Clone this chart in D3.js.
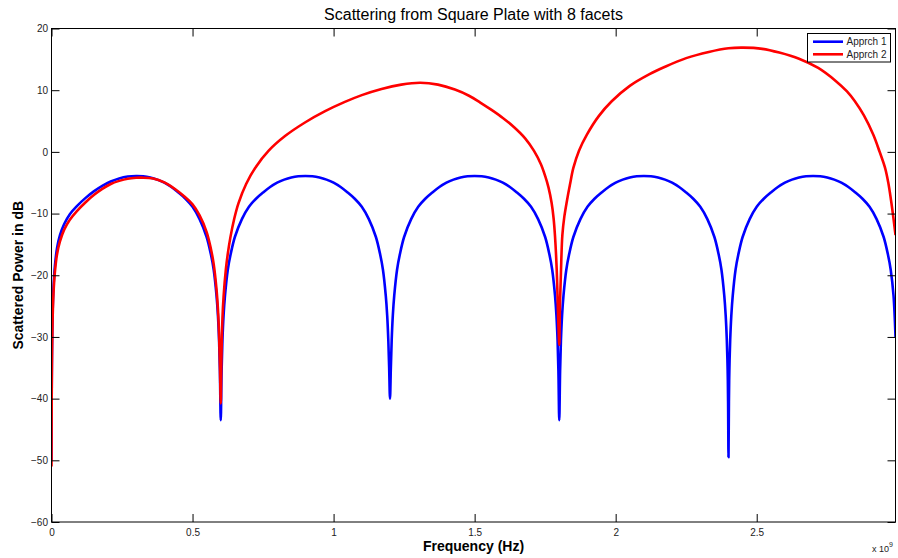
<!DOCTYPE html>
<html>
<head>
<meta charset="utf-8">
<script src="https://cdn.jsdelivr.net/npm/d3@7"></script>
<style>
body{margin:0;background:#fff}
text{font-family:"Liberation Sans",Arial,Helvetica,sans-serif}
</style>
</head>
<body>
<div id="chart"></div>
<script>
var title = 'Scattering from Square Plate with 8 facets'
var xLabel = 'Frequency (Hz)'
var yLabel = 'Scattered Power in dB'
var seriesNames = ['Apprch 1','Apprch 2']
var seriesColors = ['#0000ff','#ff0000']
var xTicks = [0,0.5,1,1.5,2,2.5]
var yTicks = [-60,-50,-40,-30,-20,-10,0,10,20]
var xMax = 2.992

// frequency (x 10^9 Hz), power (dB)
var blue1 = [[0,-50],[0.0005,-42],[0.001,-37],[0.002,-31.5],[0.004,-26],[0.007,-22],[0.012,-18.5],[0.02,-15.5],[0.03,-13.5],[0.045,-11.7],[0.065,-10.1],[0.09,-8.8],[0.12,-7.5],[0.15,-6.4],[0.18,-5.5],[0.21,-4.8],[0.24,-4.3],[0.27,-4.0],[0.3,-3.9],[0.325,-3.95],[0.35,-4.15],[0.375,-4.5],[0.4,-5.0],[0.425,-5.7],[0.45,-6.6],[0.475,-7.6],[0.5,-8.9],[0.525,-10.9],[0.55,-13.8],[0.565,-16.6],[0.575,-19.1],[0.585,-23.3],[0.59,-26.5],[0.594,-30.5],[0.597,-35.5],[0.6,-43.5]]
var blue2 = [[0.603,-35.5],[0.606,-30.5],[0.61,-26.5],[0.615,-23.3],[0.625,-19.1],[0.635,-16.6],[0.65,-13.8],[0.675,-10.9],[0.7,-8.9],[0.725,-7.6],[0.75,-6.6],[0.775,-5.7],[0.8,-5.0],[0.825,-4.5],[0.85,-4.15],[0.875,-3.95],[0.9,-3.9],[0.925,-3.95],[0.95,-4.15],[0.975,-4.5],[1.0,-5.0],[1.025,-5.7],[1.05,-6.6],[1.075,-7.6],[1.1,-8.9],[1.125,-10.9],[1.15,-13.8],[1.165,-16.6],[1.175,-19.1],[1.185,-23.3],[1.19,-26.5],[1.194,-30.5],[1.197,-35],[1.2,-40]]
var blue3 = [[1.203,-35],[1.206,-30.5],[1.21,-26.5],[1.215,-23.3],[1.225,-19.1],[1.235,-16.6],[1.25,-13.8],[1.275,-10.9],[1.3,-8.9],[1.325,-7.6],[1.35,-6.6],[1.375,-5.7],[1.4,-5.0],[1.425,-4.5],[1.45,-4.15],[1.475,-3.95],[1.5,-3.9],[1.525,-3.95],[1.55,-4.15],[1.575,-4.5],[1.6,-5.0],[1.625,-5.7],[1.65,-6.6],[1.675,-7.6],[1.7,-8.9],[1.725,-10.9],[1.75,-13.8],[1.765,-16.6],[1.775,-19.1],[1.785,-23.3],[1.79,-26.5],[1.794,-30.5],[1.797,-35.5],[1.8,-43.5]]
var blue4 = [[1.803,-35.5],[1.806,-30.5],[1.81,-26.5],[1.815,-23.3],[1.825,-19.1],[1.835,-16.6],[1.85,-13.8],[1.875,-10.9],[1.9,-8.9],[1.925,-7.6],[1.95,-6.6],[1.975,-5.7],[2.0,-5.0],[2.025,-4.5],[2.05,-4.15],[2.075,-3.95],[2.1,-3.9],[2.125,-3.95],[2.15,-4.15],[2.175,-4.5],[2.2,-5.0],[2.225,-5.7],[2.25,-6.6],[2.275,-7.6],[2.3,-8.9],[2.325,-10.9],[2.35,-13.8],[2.365,-16.6],[2.375,-19.1],[2.385,-23.3],[2.39,-26.5],[2.394,-30.5],[2.397,-35.5],[2.3985,-40.5],[2.4,-49.5]]
var blue5 = [[2.4015,-40.5],[2.403,-35.5],[2.406,-30.5],[2.41,-26.5],[2.415,-23.3],[2.425,-19.1],[2.435,-16.6],[2.45,-13.8],[2.475,-10.9],[2.5,-8.9],[2.525,-7.6],[2.55,-6.6],[2.575,-5.7],[2.6,-5.0],[2.625,-4.5],[2.65,-4.15],[2.675,-3.95],[2.7,-3.9],[2.725,-3.95],[2.75,-4.15],[2.775,-4.5],[2.8,-5.0],[2.825,-5.7],[2.85,-6.6],[2.875,-7.6],[2.9,-8.9],[2.925,-10.9],[2.95,-13.8],[2.965,-16.6],[2.975,-19.1],[2.985,-23.3],[2.992,-30]]

var red1 = [[0,-51],[0.0005,-43],[0.001,-38],[0.002,-32.5],[0.004,-27],[0.007,-23],[0.012,-19.5],[0.02,-16.5],[0.03,-14.5],[0.045,-12.6],[0.065,-11.0],[0.09,-9.6],[0.12,-8.2],[0.15,-7.0],[0.18,-6.0],[0.21,-5.2],[0.24,-4.7],[0.27,-4.35],[0.3,-4.2],[0.32,-4.18],[0.36,-4.3],[0.4,-4.95],[0.44,-6.1],[0.47,-7.2],[0.5,-8.5],[0.525,-10.3],[0.55,-13.0],[0.565,-15.7],[0.575,-18.2],[0.585,-22.3],[0.59,-25.5],[0.594,-29.5],[0.597,-34.5],[0.6,-40.8]]
var red2 = [[0.6015,-36],[0.603,-32],[0.606,-27],[0.61,-23.5],[0.618,-19.1],[0.625,-16.5],[0.634,-13.9],[0.648,-10.8],[0.663,-8.3],[0.69,-5.2],[0.722,-2.6],[0.77,0.2],[0.829,2.6],[0.9,4.8],[0.97,6.6],[1.04,8.1],[1.1,9.2],[1.17,10.2],[1.24,10.9],[1.307,11.2],[1.37,10.9],[1.43,10.1],[1.48,9.1],[1.52,8.0],[1.56,6.8],[1.6,5.5],[1.64,4.0],[1.679,2.2],[1.71,0.2],[1.735,-2.0],[1.75,-3.9],[1.762,-5.8],[1.773,-8.3],[1.78,-10.8],[1.785,-13.7],[1.791,-19.1],[1.794,-23.5],[1.797,-28],[1.8,-31.3]]
var red3 = [[1.8015,-27],[1.803,-24],[1.806,-19.5],[1.811,-13.5],[1.818,-10.5],[1.827,-8.0],[1.838,-5.3],[1.85,-2.6],[1.87,0.2],[1.898,2.8],[1.94,5.8],[1.986,8.2],[2.05,10.7],[2.12,12.6],[2.175,13.8],[2.25,15.2],[2.33,16.2],[2.4,16.8],[2.452,16.9],[2.52,16.7],[2.58,16.1],[2.65,15.1],[2.718,13.6],[2.78,11.5],[2.82,9.8],[2.848,8.2],[2.88,5.9],[2.913,2.8],[2.935,0.1],[2.955,-2.6],[2.966,-4.9],[2.976,-7.8],[2.984,-10.5],[2.992,-13.5]]

var blue = blue1.concat(blue2,blue3,blue4,blue5)
var red = red1.concat(red2,red3)

var W = 898, H = 558
var axL = 51.5, axR = 895.5, axT = 28.5, axB = 522
var svg = d3.select('#chart').append('svg')
            .attr('width', W)
            .attr('height', H)
var x = d3.scaleLinear().domain([0,xMax]).range([axL,axR])
var y = d3.scaleLinear().domain([-60,20]).range([axB,axT])

svg.append('clipPath').attr('id','box')
   .append('rect').attr('x',axL).attr('y',axT)
   .attr('width',axR-axL).attr('height',axB-axT)

var line = d3.line().x(d=>x(d[0])).y(d=>y(d[1])).curve(d3.curveCatmullRom.alpha(0.5))
var plot = svg.append('g').attr('clip-path','url(#box)')
;[blue,red].forEach((s,i)=>{
	plot.append('path').datum(s)
	    .attr('d',line)
	    .attr('fill','none')
	    .attr('stroke',seriesColors[i])
	    .attr('stroke-width',2.6)
	    .attr('stroke-linejoin','round')
})

function styleAxis(g){
	g.select('.domain').remove()
	g.selectAll('line').attr('stroke','#000')
	g.selectAll('text').attr('fill','#222').style('font-size','10px')
}
svg.append('g').attr('transform','translate(0,'+axB+')')
   .call(d3.axisBottom(x).tickValues(xTicks).tickSize(-8).tickPadding(6.5).tickFormat(d3.format('~g')))
   .call(styleAxis)
svg.append('g').attr('transform','translate(0,'+axT+')')
   .call(d3.axisTop(x).tickValues(xTicks).tickSize(-8).tickFormat(''))
   .call(styleAxis)
svg.append('g').attr('transform','translate('+axL+',0)')
   .call(d3.axisLeft(y).tickValues(yTicks).tickSize(-8).tickPadding(3.5))
   .call(styleAxis)
svg.append('g').attr('transform','translate('+axR+',0)')
   .call(d3.axisRight(y).tickValues(yTicks).tickSize(-8).tickFormat(''))
   .call(styleAxis)

svg.append('rect').attr('x',axL).attr('y',axT)
   .attr('width',axR-axL).attr('height',axB-axT)
   .attr('fill','none').attr('stroke','#000').attr('stroke-width',1)

svg.append('text').attr('x',(axL+axR)/2).attr('y',19.5)
   .attr('text-anchor','middle').style('font-size','16px').attr('fill','#000')
   .text(title)
svg.append('text').attr('x',(axL+axR)/2).attr('y',551)
   .attr('text-anchor','middle').style('font-size','14px').style('font-weight','bold')
   .text(xLabel)
svg.append('text').attr('transform','translate(23,'+((axT+axB)/2)+') rotate(-90)')
   .attr('text-anchor','middle').style('font-size','14px').style('font-weight','bold')
   .text(yLabel)
var mult = svg.append('text').attr('x',872).attr('y',552).style('font-size','9px').attr('fill','#222')
mult.append('tspan').text('x 10')
mult.append('tspan').attr('dy',-5).style('font-size','7px').text('9')

var lg = svg.append('g')
lg.append('rect').attr('x',807.5).attr('y',33.5).attr('width',83).attr('height',28.5)
  .attr('fill','#fff').attr('stroke','#000').attr('stroke-width',1)
seriesNames.forEach((n,i)=>{
	var yy = 41.7 + i*12.6
	lg.append('line').attr('x1',813).attr('x2',843).attr('y1',yy).attr('y2',yy)
	  .attr('stroke',seriesColors[i]).attr('stroke-width',2.6)
	lg.append('text').attr('x',846.5).attr('y',yy+3.5).style('font-size','10px').attr('fill','#222').text(n)
})
</script>
</body>
</html>
